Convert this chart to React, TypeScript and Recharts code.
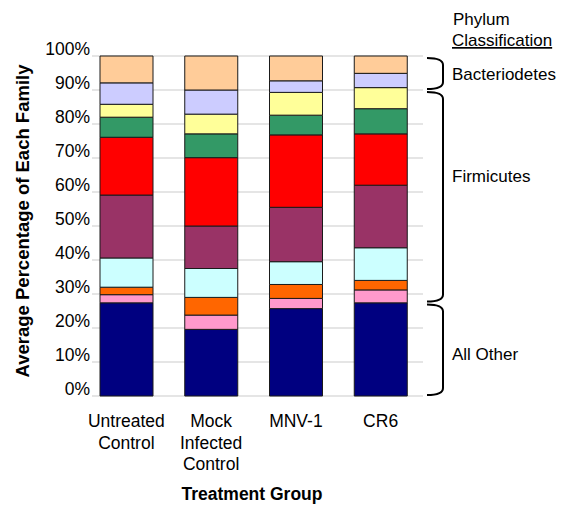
import React from 'react';
import { BarChart, Bar, XAxis, YAxis, CartesianGrid } from 'recharts';

// treatment groups and how their tick labels wrap
const groups = ['Untreated Control', 'Mock Infected Control', 'MNV-1', 'CR6'];
const groupLines = [['Untreated', 'Control'], ['Mock', 'Infected', 'Control'], ['MNV-1'], ['CR6']];

// average percentage of each family, bottom to top of the stack
const family1 = [27.4, 19.6, 25.7, 27.4];
const family2 = [2.4, 4.2, 3.0, 3.8];
const family3 = [2.2, 5.2, 4.1, 2.8];
const family4 = [8.6, 8.5, 6.7, 9.6];
const family5 = [18.5, 12.5, 16.0, 18.4];
const family6 = [17.0, 20.1, 21.3, 15.1];
const family7 = [5.9, 7.0, 5.8, 7.4];
const family8 = [3.8, 5.8, 6.7, 6.2];
const family9 = [6.3, 7.1, 3.4, 4.2];
const family10 = [7.9, 10.0, 7.3, 5.1];

const yTicks = [0, 10, 20, 30, 40, 50, 60, 70, 80, 90, 100];

// phylum brackets on the right (percent range) and where their label sits
const phylumNames = ['Bacteriodetes', 'Firmicutes', 'All Other'];
const phylumTop = [100, 90, 27.5];
const phylumBottom = [90, 27.5, 0];
const phylumLabelAt = [94.6, 64.6, 12.2];

const seriesList = [family1, family2, family3, family4, family5, family6, family7, family8, family9, family10];
const colors = ['#000080', '#FF99CC', '#FF6600', '#CCFFFF', '#993366', '#FF0000', '#339966', '#FFFF99', '#CCCCFF', '#FFCC99'];

const data = groups.map((g, i) => {
  const row: any = { name: g };
  seriesList.forEach((s, k) => { row['f' + (k + 1)] = s[i]; });
  return row;
});

const W = 561;
const H = 505;
const PLOT_LEFT = 92;
const PLOT_RIGHT = 423;
const PLOT_TOP = 56;
const PLOT_BOTTOM = 396;
const FONT = '"Liberation Sans", Arial, sans-serif';

const yPix = (v: number) => PLOT_TOP + (100 - v) / 100 * (PLOT_BOTTOM - PLOT_TOP);

const XTick = ({ x, y, index }: any) => {
  const lines = groupLines[index] || [];
  return (
    <text x={x} y={y} textAnchor="middle" fill="#000" fontSize={17.5} fontFamily={FONT}>
      {lines.map((l, i) => (
        <tspan key={i} x={x} dy={i === 0 ? 31 : 21.7}>{l}</tspan>
      ))}
    </text>
  );
};

const YTick = ({ x, y, payload }: any) => (
  <text x={x} y={y} dy={-1} textAnchor="end" fill="#000" fontSize={17.5} fontFamily={FONT}>
    {payload.value + '%'}
  </text>
);

const Overlay = () => {
  const x0 = 427;
  const x1 = 443;
  return (
    <svg width={W} height={H} style={{ position: 'absolute', left: 0, top: 0, pointerEvents: 'none' }}>
      <text x={22} y={(PLOT_TOP + PLOT_BOTTOM) / 2 - 5} transform={`rotate(-90 22 ${(PLOT_TOP + PLOT_BOTTOM) / 2 - 5})`}
        textAnchor="middle" dominantBaseline="central" fontWeight="bold" fontSize={18.5} fontFamily={FONT} fill="#000">
        Average Percentage of Each Family
      </text>
      <text x={252} y={500} textAnchor="middle" fontWeight="bold" fontSize={17.5} fontFamily={FONT} fill="#000">
        Treatment Group
      </text>
      <text x={453} y={25} fontSize={17} fontFamily={FONT} fill="#000">Phylum</text>
      <text x={452} y={46} fontSize={17} fontFamily={FONT} fill="#000" textDecoration="underline">Classification</text>
      {phylumNames.map((n, i) => {
        const yT = yPix(phylumTop[i]) + 2;
        const yB = yPix(phylumBottom[i]) - 1;
        const r = 7;
        return (
          <g key={n}>
            <path d={`M ${x0} ${yT} Q ${x1} ${yT} ${x1} ${yT + r} L ${x1} ${yB - r} Q ${x1} ${yB} ${x0} ${yB}`}
              fill="none" stroke="#000" strokeWidth={2} />
            <text x={452} y={yPix(phylumLabelAt[i])} dominantBaseline="central" fontSize={17} fontFamily={FONT} fill="#000">{n}</text>
          </g>
        );
      })}
    </svg>
  );
};

export default function App() {
  return (
    <div style={{ position: 'absolute', left: 0, top: 0, width: W, height: H, background: '#fff' }}>
      <BarChart width={W} height={H} data={data}
        margin={{ top: PLOT_TOP, right: W - PLOT_RIGHT, bottom: 0, left: 0 }}>
        <CartesianGrid horizontal vertical={false} stroke="#dcdcdc" strokeWidth={1.5} />
        <XAxis dataKey="name" height={H - PLOT_BOTTOM} axisLine={false} tickLine={false}
          tickSize={0} tickMargin={0} interval={0} padding={{ left: -8, right: 0 }} tick={<XTick />} />
        <YAxis width={PLOT_LEFT} domain={[0, 100]} ticks={yTicks} axisLine={false} tickLine={false}
          tickSize={0} tickMargin={2} interval={0} tick={<YTick />} />
        {seriesList.map((_, k) => (
          <Bar key={k} dataKey={'f' + (k + 1)} stackId="a" fill={colors[k]} stroke="#1a1a1a" strokeWidth={1}
            barSize={53} isAnimationActive={false} />
        ))}
      </BarChart>
      <Overlay />
    </div>
  );
}
